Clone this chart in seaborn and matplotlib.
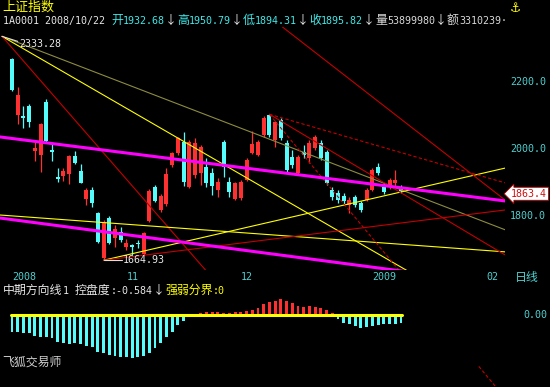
import matplotlib
matplotlib.use("Agg")
import matplotlib.pyplot as plt
import numpy as np
import pandas as pd
import seaborn as sns

# ---------------- data ----------------
opens = [2266, 2099, 2096, 2125, 1991, 1979, 2137, 1994, 1913, 1916,
         1922, 1976, 1932.68, 1848, 1875, 1806, 1672, 1791, 1731, 1749,
         1704, 1710, 1716, 1684, 1782, 1884, 1815, 1833, 1949, 1985,
         2018, 1884, 1919, 1925, 1943, 1925, 1875, 2018, 1899, 1848,
         1851, 1905, 1985, 1979, 2039, 2099, 2024, 2084, 2015, 1973,
         1925, 1988, 1970, 2000, 2015, 1988, 1875, 1866, 1857, 1830,
         1854, 1836, 1845, 1875, 1943, 1884, 1884, 1896, 1884]
highs = [2270, 2182, 2125, 2131, 2024, 2075, 2146, 2012, 1940, 1940,
         1979, 1991, 1950.79, 1881, 1884, 1808, 1785, 1797, 1770, 1764,
         1728, 1713, 1725, 1749, 1878, 1890, 1863, 1940, 1988, 2033,
         2048, 2024, 2030, 2009, 1970, 1940, 1910, 2024, 1913, 1899,
         1905, 1970, 2051, 2024, 2096, 2100.8, 2081, 2090, 2024, 1994,
         1979, 2009, 2024, 2039, 2024, 1994, 1884, 1875, 1866, 1854,
         1860, 1842, 1881, 1940, 1955, 1896, 1910, 1934, 1890]
lows = [2171, 2072, 2060, 2063, 1961, 1928, 2018, 1961, 1899, 1901,
        1893, 1953, 1894.31, 1830, 1824, 1717, 1664.93, 1713, 1704, 1719,
        1696, 1681, 1701, 1681, 1779, 1839, 1809, 1827, 1943, 1979,
        1887, 1881, 1910, 1890, 1884, 1860, 1854, 1913, 1854, 1845,
        1845, 1902, 1982, 1976, 2033, 2033, 2003, 2024, 1928, 1940,
        1919, 1970, 1955, 1994, 1964, 1890, 1845, 1836, 1830, 1806,
        1824, 1809, 1842, 1872, 1919, 1863, 1878, 1887, 1866]
closes = [2174, 2158, 2090, 2078, 2000, 2072, 2021, 1988, 1907, 1931,
          1976, 1955, 1895.82, 1875, 1836, 1719, 1779, 1716, 1758, 1725,
          1716, 1704, 1713, 1746, 1872, 1842, 1857, 1922, 1985, 2030,
          1899, 2018, 2015, 2003, 1896, 1887, 1899, 1943, 1869, 1896,
          1899, 1964, 2012, 2018, 2090, 2039, 2078, 2030, 1934, 1949,
          1973, 1979, 2015, 2033, 1970, 1896, 1854, 1845, 1842, 1845,
          1830, 1815, 1875, 1934, 1925, 1869, 1904, 1905, 1872]

# 控盘度 indicator
control = [-0.333, -0.333, -0.365, -0.365, -0.413, -0.444, -0.432, -0.464, -0.532, -0.564,
           -0.578, -0.564, -0.584, -0.612, -0.632, -0.731, -0.763, -0.797, -0.817, -0.831,
           -0.843, -0.863, -0.843, -0.817, -0.763, -0.664, -0.564, -0.444, -0.333, -0.199,
           -0.114, -0.046, 0.02, 0.04, 0.06, 0.06, 0.06, 0.04, 0.04, 0.06,
           0.06, 0.08, 0.10, 0.134, 0.219, 0.265, 0.285, 0.313, 0.285, 0.233,
           0.185, 0.165, 0.179, 0.165, 0.145, 0.10, 0.034, -0.086, -0.153, -0.179,
           -0.219, -0.253, -0.233, -0.219, -0.199, -0.185, -0.179, -0.185, -0.165]

month_pos = [0, 20, 40, 63, 83]
month_labels = ["2008", "11", "12", "2009", "02"]
price_ticks = [1800, 2000, 2200]
high_label = 2333.28
low_label = 1664.93
marker_value = 1863.4

# trend lines: (bar index endpoints, price endpoints)
line_olive = ([-1.75, 86.19], [2333.28, 1756.0])
line_yellow_a = ([-1.75, 86.19], [2333.28, 1465.0])
line_red_a = ([-1.75, 38.1], [2333.28, 1552.0])
line_mag_up = ([-2.1, 86.19], [2033.0, 1842.0])
line_mag_low = ([-2.1, 86.19], [1791.0, 1592.0])
line_yellow_c = ([-2.1, 86.19], [1800.0, 1690.0])
line_yellow_d = ([16, 86.19], [1664.93, 1940.0])
line_red_e = ([16, 86.19], [1664.93, 1815.0])
line_red_b = ([45, 86.19], [2100.8, 1681.0])
line_red_c = ([45, 86.19], [2100.8, 1896.0])
line_red_d = ([45, 86.19], [2100.8, 1254.0])
line_red_top = ([46.85, 86.19], [2367.0, 1845.0])

# ---------------- style ----------------
sns.set_theme(style="dark")
plt.rcParams["font.family"] = ["DejaVu Sans Mono", "Noto Sans CJK SC", "DejaVu Sans"]
plt.rcParams["axes.unicode_minus"] = False

W, H = 550, 387
RED = "#ff3030"
CYAN = "#54fcfc"
TEAL = "#4fcfcf"
YELLOW = "#ffff00"
MAGENTA = "#ff00ff"
DRED = "#c40000"
OLIVE = "#8c8c40"

fig = plt.figure(figsize=(W / 100, H / 100), dpi=100, facecolor="black")

XLIM = (-2.1, 86.19)


def price_at(py):
    return 2441.8 - 2.985 * py


def add_axes(top_px, bot_px):
    a = fig.add_axes([0, 1 - bot_px / H, 505 / W, (bot_px - top_px) / H])
    a.set_facecolor("black")
    a.set_xlim(*XLIM)
    a.grid(False)
    for s in a.spines.values():
        s.set_visible(False)
    return a


# ---------------- price panel ----------------
ax = add_axes(27, 270)
ax.set_ylim(price_at(270), price_at(27))

df = pd.DataFrame({"o": opens, "h": highs, "l": lows, "c": closes})
df["i"] = np.arange(len(df))
colors = [RED if c >= o else CYAN for o, c in zip(df.o, df.c)]
ax.vlines(df.i, df.l, df.h, colors=colors, lw=0.9, zorder=3)
body_low = np.minimum(df.o, df.c)
body_h = np.maximum(np.abs(df.c - df.o), 4)
ax.bar(df.i, body_h, bottom=body_low, width=0.7, color=colors, lw=0, zorder=3)

thin = 0.8
dash = (0, (3, 2))
for (xs, ys), col, lw, ls in [
    (line_olive, OLIVE, thin, "-"),
    (line_yellow_a, YELLOW, thin, "-"),
    (line_red_a, DRED, thin, "-"),
    (line_yellow_c, YELLOW, thin, "-"),
    (line_yellow_d, YELLOW, thin, "-"),
    (line_red_e, DRED, thin, "-"),
    (line_red_b, DRED, thin, "-"),
    (line_red_c, DRED, thin, dash),
    (line_red_d, DRED, thin, dash),
    (line_red_top, DRED, thin, "-"),
    (line_mag_up, MAGENTA, 2.2, "-"),
    (line_mag_low, MAGENTA, 2.2, "-"),
]:
    sns.lineplot(x=xs, y=ys, ax=ax, color=col, lw=lw, linestyle=ls,
                 legend=False, zorder=4)

# high / low annotations
ax.plot([-1.75, 1.0], [high_label, high_label - 15], color="#e0e0e0", lw=0.8, zorder=5)
ax.text(1.3, high_label - 22, f"{high_label:.2f}", color="#e8e8e8", fontsize=7.2,
        va="center", ha="left", zorder=6)
ax.plot([16, 19.3], [low_label, low_label], color="#e0e0e0", lw=0.8, zorder=5)
ax.text(19.4, low_label, f"{low_label:.2f}", color="#e8e8e8", fontsize=7.2,
        va="center", ha="left", zorder=6)

# axes ticks
ax.yaxis.tick_right()
ax.set_yticks(price_ticks, [f"{v:.1f}" for v in price_ticks])
ax.tick_params(axis="y", length=0, pad=3.8, labelcolor=TEAL, labelsize=7.2)
ax.set_xticks(month_pos, month_labels)
ax.tick_params(axis="x", length=0, pad=1.8, labelcolor=TEAL, labelsize=7.2)
for lb in ax.get_xticklabels():
    lb.set_ha("left")
ax.set_xlabel("")
ax.set_ylabel("")

ax.text(1.012, marker_value, f"{marker_value:.1f}", transform=ax.get_yaxis_transform(),
        ha="left", va="center", color="#d01010", fontsize=7.2, clip_on=False, zorder=10,
        bbox=dict(boxstyle="larrow,pad=0.15", fc="white", ec="#b00000", lw=0.6))

# ---------------- indicator panel ----------------
ax2 = add_axes(280, 365)
ax2.set_ylim(-0.996, 0.697)
ind_colors = [RED if v > 0 else CYAN for v in control]
ax2.bar(np.arange(len(control)), control, width=0.5, color=ind_colors, lw=0, zorder=2)
sns.lineplot(x=[-0.2, len(control) - 0.8], y=[0, 0], ax=ax2, color=YELLOW, lw=2.2,
             legend=False, zorder=3)
ax2.set_xticks([])
ax2.set_yticks([])
ax2.set_xlabel("")
ax2.set_ylabel("")

# continuation of the steep dashed line below the indicator panel
ax3 = add_axes(366, 387)
ax3.set_ylim(price_at(387), price_at(366))
sns.lineplot(x=line_red_d[0], y=line_red_d[1], ax=ax3, color=DRED, lw=thin,
             linestyle=dash, legend=False)
ax3.set_xticks([])
ax3.set_yticks([])
ax3.set_xlabel("")
ax3.set_ylabel("")


# ---------------- text rows ----------------
def run(x, baseline, segments, cjk_size=8.6, lat_size=7.2, cell=6.0):
    for text, color in segments:
        chunk, wide = "", None
        pieces = []
        for ch in text:
            w = ord(ch) > 0x2000
            if wide is None or w == wide:
                chunk += ch
            else:
                pieces.append((chunk, wide))
                chunk = ch
            wide = w
        if chunk:
            pieces.append((chunk, wide))
        for s, w in pieces:
            if s.strip():
                fig.text(x / W, 1 - baseline / H, s, color=color, va="baseline", ha="left",
                         fontsize=cjk_size if w else lat_size,
                         family=["Noto Sans CJK SC", "DejaVu Sans"] if w else ["DejaVu Sans Mono", "DejaVu Sans"])
            x += len(s) * (2 * cell if w else cell)


run(2, 11, [("上证指数", YELLOW)], cjk_size=9.4)
WH = "#e6e6e6"
HC = "#40e8e8"
run(3, 24, [("1A0001 2008/10/22 ", WH),
            ("开1932.68", HC), ("↓", WH), ("高1950.79", HC), ("↓", WH),
            ("低1894.31", HC), ("↓", WH), ("收1895.82", HC), ("↓", WH),
            ("量53899980", "#d8d8d8"), ("↓", WH), ("额3310239·", "#d8d8d8")])
fig.text(510 / W, 1 - 8 / H, "⚓", color=YELLOW, fontsize=9, family=["DejaVu Sans"],
         va="center", ha="left", fontweight="bold")

run(515, 281, [("日线", TEAL)])
run(3, 294, [("中期方向线1 控盘度:-0.584", WH), ("↓", WH), ("强弱分界:0", YELLOW)])
run(523, 318, [("0.00", TEAL)])
run(2, 366, [("飞狐交易师", "#d0d0d0")])

fig.savefig("out.png", dpi=100, facecolor="black")
